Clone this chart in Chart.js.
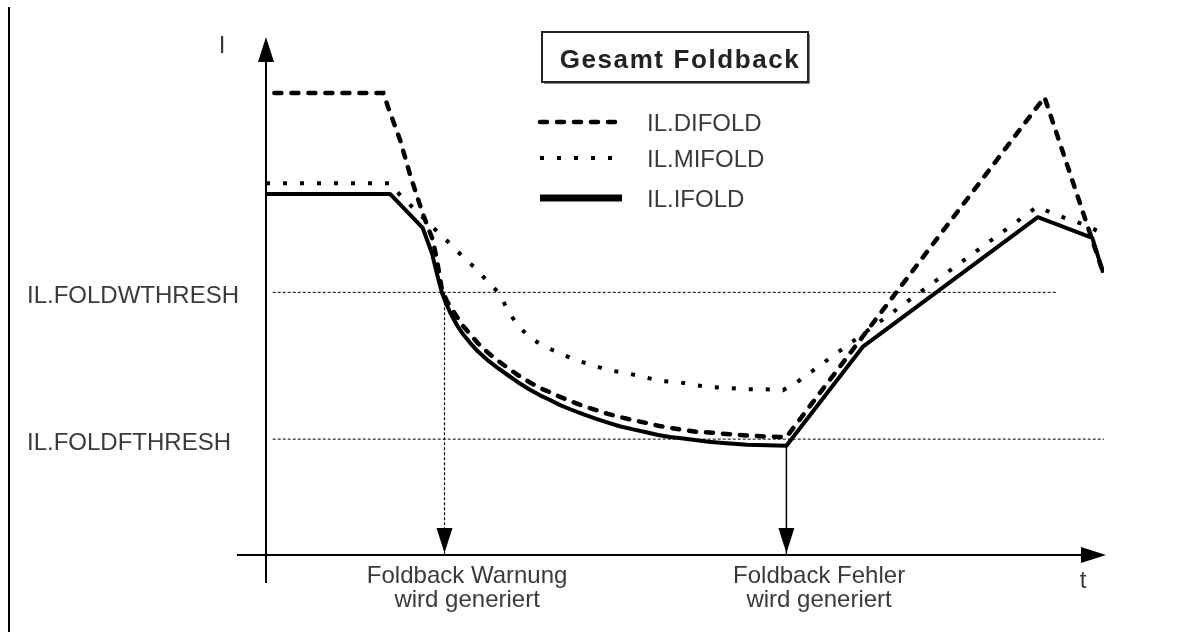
<!DOCTYPE html>
<html lang="de">
<head>
<meta charset="UTF-8">
<title>Gesamt Foldback</title>
<script src="https://cdn.jsdelivr.net/npm/chart.js"></script>
<style>
  html, body { margin: 0; padding: 0; background: #fff; }
  #wrap { width: 1204px; height: 639px; }
</style>
</head>
<body>
<div id="wrap"><canvas id="foldbackChart" width="1204" height="639"></canvas></div>
<script>
// time (t) and current (I) in diagram units, 0..100 on both axes
const difoldT = [1.0, 14.0, 14.6, 16.0, 17.2, 18.7, 19.9, 20.4, 21.0, 21.5, 22.0, 22.8, 23.5, 24.3, 25.3, 26.4, 27.6, 28.8, 30.1, 31.5, 32.7, 33.9, 35.1, 36.3, 37.9, 39.5, 40.8, 42.2, 43.8, 45.5, 46.8, 48.2, 49.8, 51.4, 52.8, 54.2, 55.8, 57.4, 59.8, 62.1, 92.9, 99.8];
const difoldI = [89.7, 89.7, 86.8, 80.6, 73.8, 66.3, 61.2, 57.3, 51.5, 49.6, 48.2, 46.2, 44.5, 43.0, 41.1, 39.4, 37.8, 36.4, 34.9, 33.5, 32.4, 31.6, 30.7, 29.9, 28.9, 28.1, 27.4, 26.8, 26.2, 25.6, 25.1, 24.7, 24.3, 23.9, 23.8, 23.6, 23.4, 23.2, 23.0, 22.9, 88.9, 55.3];

const mifoldT = [0, 14.8, 16.0, 20.5, 22.0, 23.5, 25.1, 26.5, 27.9, 28.8, 30.0, 31.4, 33.1, 35.0, 36.9, 38.9, 40.8, 43.1, 45.0, 47.0, 49.1, 51.2, 53.2, 55.4, 57.4, 59.6, 61.7, 63.4, 92.0, 93.8, 95.7, 97.7, 99.5];
const mifoldI = [72.2, 72.2, 69.9, 62.7, 60.4, 57.9, 55.5, 53.0, 50.7, 47.6, 44.7, 42.3, 40.6, 39.2, 37.9, 36.9, 35.9, 35.3, 34.6, 33.8, 33.6, 33.0, 32.6, 32.4, 32.2, 32.2, 32.0, 33.6, 67.6, 66.4, 65.2, 64.1, 62.7];

const ifoldT = [0, 14.8, 18.7, 19.8, 20.5, 21.0, 21.5, 22.0, 22.8, 23.5, 24.3, 25.3, 26.4, 27.6, 28.8, 30.1, 31.5, 32.7, 33.9, 35.1, 36.3, 37.9, 39.5, 40.8, 42.2, 43.8, 45.5, 46.8, 48.2, 49.8, 51.4, 52.8, 54.2, 55.8, 57.4, 59.8, 62.1, 71.2, 92.1, 98.6, 99.9];
const ifoldI = [70.1, 70.1, 63.5, 58.6, 54.0, 50.9, 48.8, 47.0, 44.6, 42.9, 41.3, 39.5, 37.9, 36.4, 35.0, 33.5, 32.1, 31.0, 30.1, 29.1, 28.3, 27.3, 26.4, 25.7, 25.0, 24.4, 23.8, 23.3, 22.9, 22.6, 22.3, 22.0, 21.8, 21.6, 21.4, 21.3, 21.2, 40.4, 65.6, 61.6, 54.8];

const seriesNames = ['IL.DIFOLD', 'IL.MIFOLD', 'IL.IFOLD'];

// threshold levels and where their dotted lines start / end
const thresholdI = [51.0, 22.5];
const thresholdLabels = ['IL.FOLDWTHRESH', 'IL.FOLDFTHRESH'];
const thresholdFrom = [0.8, 0.8];
const thresholdTo = [94.3, 100];

// event markers (warning, error)
const eventT = [21.3, 62.1];
const eventFromI = [51.0, 21.2];
const eventLabelT = [24.0, 66.0];
const eventLabels = [['Foldback Warnung', 'wird generiert'], ['Foldback Fehler', 'wird generiert']];

const titleText = 'Gesamt Foldback';
const axisLabels = ['I', 't'];

function pts(xs, ys) {
    return xs.map((x, i) => ({ x: x, y: ys[i] }));
}

const FONT = '24px "Liberation Sans", Arial, sans-serif';

function arrowHead(ctx, tx, ty, dir) {
    const L = 25, W = 8;
    ctx.beginPath();
    if (dir === 'up') {
        ctx.moveTo(tx, ty); ctx.lineTo(tx - W, ty + L); ctx.lineTo(tx + W, ty + L);
    } else if (dir === 'down') {
        ctx.moveTo(tx, ty); ctx.lineTo(tx - W, ty - L); ctx.lineTo(tx + W, ty - L);
    } else {
        ctx.moveTo(tx, ty); ctx.lineTo(tx - L, ty - W); ctx.lineTo(tx - L, ty + W);
    }
    ctx.closePath();
    ctx.fill();
}

// axes, arrows, labels, title box and legend
const decor = {
    id: 'decor',
    beforeDatasetsDraw(chart) {
        const ctx = chart.ctx, xs = chart.scales.x, ys = chart.scales.y, a = chart.chartArea;
        const x0 = xs.getPixelForValue(0), y0 = ys.getPixelForValue(0);
        ctx.save();
        ctx.strokeStyle = '#000';
        ctx.fillStyle = '#000';
        ctx.lineWidth = 2;
        ctx.beginPath();
        ctx.moveTo(9, 7); ctx.lineTo(9, 632);
        ctx.moveTo(x0, y0 + 28); ctx.lineTo(x0, a.top + 20);
        ctx.moveTo(x0 - 29, y0); ctx.lineTo(a.right - 20, y0);
        ctx.stroke();
        arrowHead(ctx, x0, a.top - 3, 'up');
        arrowHead(ctx, a.right + 2, y0, 'right');
        ctx.restore();
    },
    afterDatasetsDraw(chart) {
        const ctx = chart.ctx, xs = chart.scales.x, ys = chart.scales.y, a = chart.chartArea;
        const x0 = xs.getPixelForValue(0), y0 = ys.getPixelForValue(0);
        ctx.save();
        ctx.fillStyle = '#000';
        eventT.forEach(t => arrowHead(ctx, xs.getPixelForValue(t), y0 - 2, 'down'));

        ctx.font = FONT;
        ctx.fillStyle = '#3a3a3a';
        ctx.textBaseline = 'alphabetic';
        ctx.textAlign = 'center';
        ctx.fillText(axisLabels[0], x0 - 44, a.top + 13);
        ctx.fillText(axisLabels[1], a.right - 21, y0 + 33);

        eventLabels.forEach((lines, i) => {
            const cx = xs.getPixelForValue(eventLabelT[i]);
            lines.forEach((s, j) => ctx.fillText(s, cx, y0 + 28 + j * 24));
        });

        ctx.textAlign = 'left';
        thresholdLabels.forEach((s, i) => {
            ctx.fillText(s, 27, ys.getPixelForValue(thresholdI[i]) + 11);
        });

        // legend
        const rows = [122, 158, 198];
        seriesNames.forEach((name, i) => {
            const ds = chart.data.datasets[i];
            ctx.save();
            ctx.strokeStyle = ds.borderColor;
            ctx.lineWidth = ds.legendWidth || ds.borderWidth;
            ctx.lineCap = ds.borderCapStyle || 'butt';
            ctx.setLineDash(ds.borderDash || []);
            ctx.beginPath();
            ctx.moveTo(540, rows[i]);
            ctx.lineTo(622, rows[i]);
            ctx.stroke();
            ctx.restore();
            ctx.fillText(name, 647, rows[i] + 9);
        });

        // title box
        ctx.strokeStyle = '#222';
        ctx.lineWidth = 2;
        ctx.strokeRect(542, 32, 266, 50);
        ctx.strokeStyle = '#888';
        ctx.lineWidth = 1;
        ctx.beginPath();
        ctx.moveTo(544, 83.5); ctx.lineTo(809.5, 83.5); ctx.lineTo(809.5, 34);
        ctx.stroke();
        ctx.font = 'bold 26px "Liberation Sans", Arial, sans-serif';
        ctx.fillStyle = '#222';
        ctx.textAlign = 'center';
        if ('letterSpacing' in ctx) ctx.letterSpacing = '1.6px';
        ctx.fillText(titleText, 680, 68);
        ctx.restore();
    }
};

const datasets = [
    {
        label: seriesNames[0], data: pts(difoldT, difoldI),
        borderColor: '#000', borderWidth: 4.5, borderDash: [7, 10], borderCapStyle: 'round'
    },
    {
        label: seriesNames[1], data: pts(mifoldT, mifoldI),
        borderColor: '#000', borderWidth: 4, borderDash: [4, 13], borderCapStyle: 'butt'
    },
    {
        label: seriesNames[2], data: pts(ifoldT, ifoldI),
        borderColor: '#000', borderWidth: 4, borderJoinStyle: 'round', legendWidth: 7
    }
];

thresholdI.forEach((v, i) => {
    datasets.push({
        label: thresholdLabels[i],
        data: [{ x: thresholdFrom[i], y: v }, { x: thresholdTo[i], y: v }],
        borderColor: '#000', borderWidth: 1, borderDash: [3, 2]
    });
});

eventT.forEach((t, i) => {
    datasets.push({
        label: eventLabels[i][0],
        data: [{ x: t, y: eventFromI[i] }, { x: t, y: 0 }],
        borderColor: '#000', borderWidth: i === 0 ? 1.2 : 1.5, borderDash: i === 0 ? [3, 2] : []
    });
});

new Chart(document.getElementById('foldbackChart').getContext('2d'), {
    type: 'line',
    data: { datasets: datasets },
    options: {
        responsive: false,
        animation: false,
        devicePixelRatio: 1,
        layout: { padding: { left: 266, right: 100, top: 40, bottom: 84 } },
        elements: { point: { radius: 0, hoverRadius: 0 }, line: { tension: 0, fill: false } },
        scales: {
            x: { type: 'linear', min: 0, max: 100, display: false },
            y: { type: 'linear', min: 0, max: 100, display: false }
        },
        plugins: { legend: { display: false }, tooltip: { enabled: false }, title: { display: false } },
        events: []
    },
    plugins: [decor]
});
</script>
</body>
</html>
